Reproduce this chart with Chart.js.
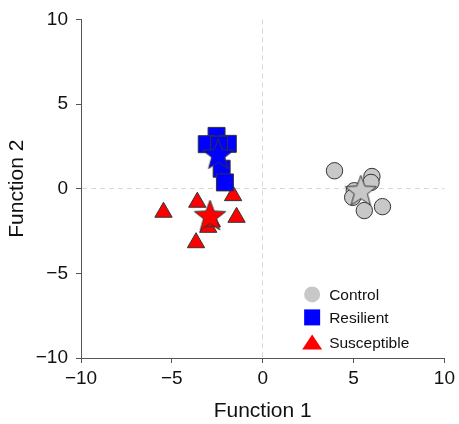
<!DOCTYPE html>
<html><head><meta charset="utf-8">
<script src="https://cdn.jsdelivr.net/npm/chart.js@4/dist/chart.umd.min.js"></script>
<style>html,body{margin:0;padding:0;background:#fff}#wrap{width:459px;height:424px}</style>
</head><body><div id="wrap"><canvas id="c" width="459" height="424"></canvas></div>
<script>
const groups = ['Control', 'Resilient', 'Susceptible'];
const controlX = [3.95, 6.01, 5.96, 5.04, 4.95, 5.59, 6.59];
const controlY = [1.06, 0.72, 0.37, -0.12, -0.51, -1.29, -1.06];
const resilientX = [-2.54, -3.08, -1.92, -2.4, -2.26, -2.08];
const resilientY = [3.12, 2.63, 2.65, 2.6, 1.18, 0.37];
const susceptibleX = [-5.46, -3.6, -1.63, -1.44, -3.0, -2.8, -3.67];
const susceptibleY = [-1.39, -0.8, -0.41, -1.69, -2.28, -1.95, -3.19];
const centroidX = [5.4, -2.45, -2.9];
const centroidY = [-0.12, 2.04, -1.59];
const axisTicks = [-10, -5, 0, 5, 10];
const fills = ['#c8c8c8', '#0000ff', '#ff0000'];
const edge = '#333333';
const FONT = "'Liberation Sans', Arial, Helvetica, sans-serif";

function pts(xs, ys) { return xs.map((x, i) => ({x: x, y: ys[i]})); }
function star(fill, R) {
  const s = Math.ceil(R * 2 + 4);
  const cv = document.createElement('canvas');
  cv.width = s; cv.height = s;
  const g = cv.getContext('2d');
  const c = s / 2, r = R * 0.42;
  g.beginPath();
  for (let i = 0; i < 10; i++) {
    const rad = (i % 2 ? r : R);
    const a = -Math.PI / 2 + i * Math.PI / 5;
    const px = c + rad * Math.cos(a), py = c + 1 + rad * Math.sin(a);
    i ? g.lineTo(px, py) : g.moveTo(px, py);
  }
  g.closePath();
  g.fillStyle = fill; g.fill();
  g.lineWidth = 1; g.strokeStyle = edge; g.stroke();
  return cv;
}

const legendPlugin = {
  id: 'ownLegend',
  afterDraw(chart) {
    const ctx = chart.ctx, a = chart.chartArea;
    const x0 = a.left + 0.636 * (a.right - a.left);
    const ys = [a.top + 275, a.top + 298, a.top + 323];
    ctx.save();
    ctx.font = '15.5px ' + FONT;
    ctx.textBaseline = 'middle';
    groups.forEach((name, i) => {
      const y = ys[i];
      ctx.fillStyle = fills[i];
      ctx.beginPath();
      if (i === 0) ctx.arc(x0, y, 8, 0, Math.PI * 2);
      else if (i === 1) ctx.rect(x0 - 8, y - 8, 16, 16);
      else { ctx.moveTo(x0, y - 8); ctx.lineTo(x0 + 10, y + 7); ctx.lineTo(x0 - 10, y + 7); ctx.closePath(); }
      ctx.fill();
      ctx.fillStyle = '#111';
      ctx.fillText(name, x0 + 17, y + 1);
    });
    ctx.restore();
  }
};

const gridOpts = {
  color: c => (c.tick && c.tick.value === 0) ? '#d8d8d8' : 'rgba(0,0,0,0)',
  lineWidth: 1,
  drawTicks: true,
  tickLength: 5,
  tickColor: '#555',
  tickWidth: 1
};

new Chart(document.getElementById('c'), {
  type: 'scatter',
  data: {
    datasets: [
      {label: 'Control centroid', data: pts([centroidX[0]], [centroidY[0]]), pointStyle: star(fills[0], 16.5), order: 0},
      {label: 'Resilient centroid', data: pts([centroidX[1]], [centroidY[1]]), pointStyle: star(fills[1], 16.5), order: 0},
      {label: 'Susceptible centroid', data: pts([centroidX[2]], [centroidY[2]]), pointStyle: star(fills[2], 16.5), order: 0},
      {label: groups[0], data: pts(controlX, controlY), pointStyle: 'circle', pointRadius: 8.2, backgroundColor: fills[0], borderColor: edge, borderWidth: 1, order: 1},
      {label: groups[1], data: pts(resilientX, resilientY), pointStyle: 'rect', pointRadius: 12, backgroundColor: fills[1], borderColor: edge, borderWidth: 1, order: 1},
      {label: groups[2], data: pts(susceptibleX, susceptibleY), pointStyle: 'triangle', pointRadius: 10, backgroundColor: fills[2], borderColor: edge, borderWidth: 1, order: 1}
    ]
  },
  options: {
    responsive: false,
    animation: false,
    events: [],
    layout: {padding: {left: 0, right: 13, top: 18, bottom: 0}},
    plugins: {legend: {display: false}, tooltip: {enabled: false}},
    scales: {
      x: {
        type: 'linear', min: -10, max: 10,
        afterBuildTicks: s => { s.ticks = axisTicks.map(v => ({value: v})); },
        afterFit: s => { s.height = 66; },
        ticks: {font: {size: 19, family: FONT}, color: '#111', padding: 4, callback: v => String(v).replace('-', '\u2212'), maxRotation: 0},
        grid: gridOpts,
        border: {display: true, color: '#555', width: 1, dash: [5, 4]},
        title: {display: true, text: 'Function 1', font: {size: 21, family: FONT}, color: '#111', padding: {top: 3, bottom: 0}}
      },
      y: {
        type: 'linear', min: -10, max: 10,
        afterBuildTicks: s => { s.ticks = axisTicks.map(v => ({value: v})); },
        afterFit: s => { s.width = 81; },
        ticks: {font: {size: 19, family: FONT}, color: '#111', padding: 8, callback: v => String(v).replace('-', '\u2212')},
        grid: gridOpts,
        border: {display: true, color: '#555', width: 1, dash: [5, 4]},
        title: {display: true, text: 'Function 2', font: {size: 21, family: FONT}, color: '#111', padding: {top: 5, bottom: 4}}
      }
    }
  },
  plugins: [legendPlugin]
});
</script>
</body></html>
